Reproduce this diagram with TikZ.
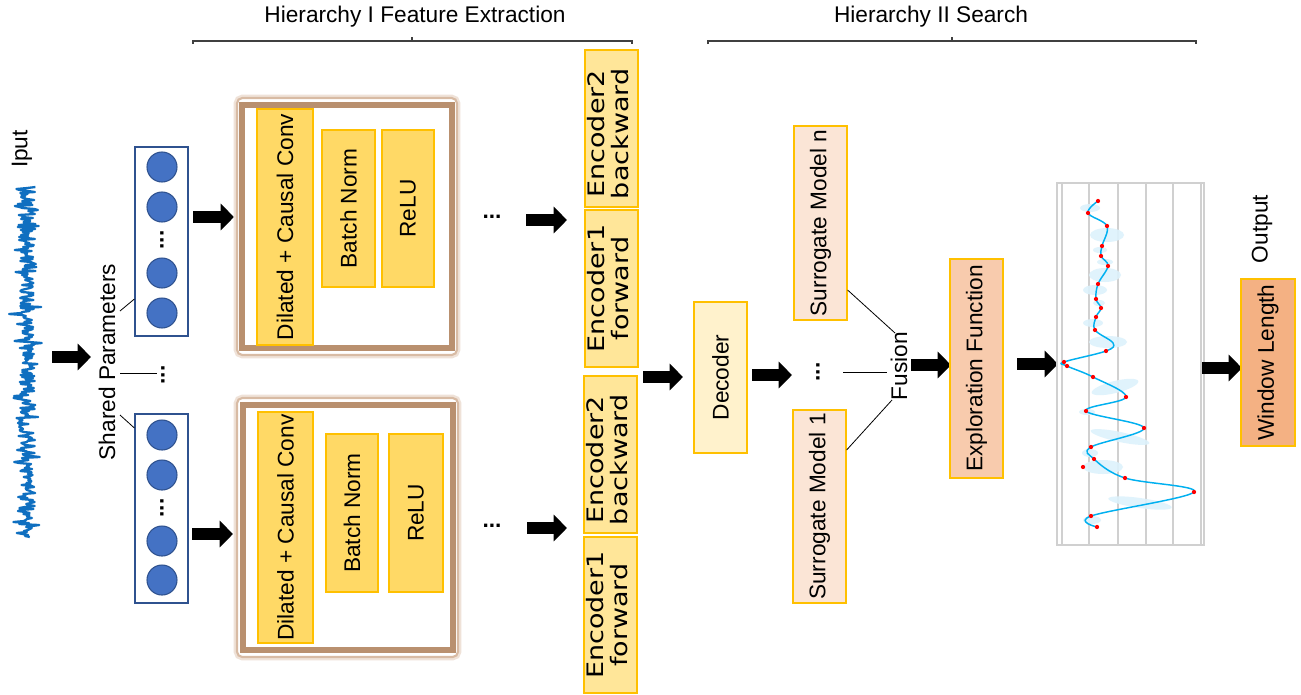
\documentclass[tikz,border=0pt]{standalone}
\usepackage{fontspec}
\usepackage{graphicx}
\setmainfont{Liberation Sans}
\newfontfamily\encfont{DejaVu Sans}
\usetikzlibrary{arrows.meta,fit}

\definecolor{boxedge}{HTML}{FFC000}
\definecolor{gold}{HTML}{FFD966}
\definecolor{encfill}{HTML}{FFE699}
\definecolor{decfill}{HTML}{FFF2CC}
\definecolor{surfill}{HTML}{FBE5D6}
\definecolor{expfill}{HTML}{F8CBAD}
\definecolor{winfill}{HTML}{F4B183}
\definecolor{nblue}{HTML}{4472C4}
\definecolor{nedge}{HTML}{2F528F}
\definecolor{framebrown}{HTML}{B9906F}
\definecolor{glowbrown}{HTML}{D8BBA4}
\definecolor{glowlight}{HTML}{EFE2D8}
\definecolor{sigblue}{HTML}{0F6FC0}
\definecolor{curveblue}{HTML}{00B0F0}
\definecolor{bandblue}{HTML}{DDF2FC}
\definecolor{gridgray}{HTML}{D0D0D0}
\definecolor{bracegray}{HTML}{404040}

% vertical text helpers
\newcommand{\vtxt}[1]{\rotatebox{90}{#1}}
\newcommand{\enctxt}[2]{\rotatebox{90}{\begin{tabular}{@{}c@{}}\scalebox{1.19}[1]{#1}\\\scalebox{1.19}[1]{#2}\end{tabular}}}
\newcommand{\hdots}{\textbf{...}}

\begin{document}
\begin{tikzpicture}[x=0.75pt,y=-0.75pt,
  font=\fontsize{17}{20}\selectfont,
  box/.style={draw=boxedge,line width=0.9pt,inner sep=0pt},
  convbox/.style={box,fill=gold},
  encbox/.style={box,fill=encfill},
  enclabel/.style={font=\encfont\fontsize{17}{17.5}\selectfont,inner sep=0pt},
  decbox/.style={box,fill=decfill},
  surbox/.style={box,fill=surfill},
  expbox/.style={box,fill=expfill},
  winbox/.style={box,fill=winfill},
  lbl/.style={inner sep=0pt},
  colbox/.style={draw=nedge,line width=0.9pt,inner sep=0pt,fill=white},
  neuron/.style={circle,fill=nblue,draw=nedge,line width=0.8pt,minimum size=22.5pt,inner sep=0pt},
  glowframe/.style={draw=glowlight,line width=5pt,rounded corners=4pt,inner sep=0pt},
  outerframe/.style={draw=glowbrown,line width=1.6pt,rounded corners=4pt,inner sep=0pt,fill=white},
  innerframe/.style={draw=framebrown,line width=4pt,inner sep=0pt},
  barrow/.style={line width=9.5pt,-{Triangle[length=10pt,width=19.5pt]}},
  thinline/.style={line width=0.6pt,black},
  bracket/.style={line width=0.9pt,bracegray},
  plotframe/.style={draw=gridgray,line width=1pt,inner sep=0pt},
  dot/.style={circle,fill=red,inner sep=0pt,minimum size=3.2pt}
]
\useasboundingbox (0,0) rectangle (1301,694);
\fill[white] (0,0) rectangle (1301,694);

% ---------- headings with brackets ----------
\node (h1) at (415,17) {Hierarchy I Feature Extraction};
\node (h2) at (931,17) {Hierarchy II Search};
\draw[bracket] (193,44) -- (193,41) -- (632,41) -- (632,44);
\draw[bracket] (412,41) -- (412,37);
\draw[bracket] (708,44) -- (708,41) -- (1196,41) -- (1196,44);
\draw[bracket] (952,41) -- (952,37);

% ---------- input signal ----------
\node[lbl] (iput) at (22,149) {\vtxt{Iput}};
\pgfmathsetseed{42}
\draw[sigblue,line width=1.7pt,line join=round]
  plot[domain=187:537,samples=351,variable=\t]
  ({27+8*rand+16*rand*rand*rand},\t);
\coordinate (a0s) at (52,357);
\coordinate (a0e) at (91,357);
\draw[barrow] (a0s) -- (a0e);

% ---------- shared parameters ----------
\node[lbl] (shared) at (107,362) {\vtxt{Shared Parameters}};

% upper neuron column
\node[colbox,fit={(135,147) (188,336)}] (colT) {};
\node[neuron] (t1) at (162,167) {};
\node[neuron] (t2) at (162,207) {};
\node (tdots) at (162,240) {\vtxt{\hdots}};
\node[neuron] (t3) at (162,273) {};
\node[neuron] (t4) at (162,313) {};

% lower neuron column
\node[colbox,fit={(135,414) (188,603)}] (colB) {};
\node[neuron] (b1) at (162,435) {};
\node[neuron] (b2) at (162,475) {};
\node (bdots) at (162,508) {\vtxt{\hdots}};
\node[neuron] (b3) at (162,541) {};
\node[neuron] (b4) at (162,580) {};

\node (mdots) at (163,375) {\vtxt{\hdots}};
\coordinate (sp1) at (120,311);
\coordinate (sp2) at (120,373);
\coordinate (sp3) at (120,415);
\draw[thinline] (sp1) -- (colT.west |- 0,299);
\draw[thinline] (sp2) -- (157,373) coordinate (sp2e);
\draw[thinline] (sp3) -- (colB.west |- 0,428);

% ---------- convolution blocks ----------
\coordinate (a1s) at (193,217);
\coordinate (a1e) at (234,217);
\draw[barrow] (a1s) -- (a1e);
\node[glowframe,fit={(237,98) (457,355)}] {};
\node[outerframe,fit={(237,98) (457,355)}] (convT) {};
\node[innerframe,fit={(242,105) (452,348)}] (innerT) {};
\node[convbox,fit={(257,109) (313,345)}] (dcT) {};
\node[convbox,fit={(322,130) (375,287)}] (bnT) {};
\node[convbox,fit={(382,130) (434,287)}] (reT) {};
\node[lbl] at (dcT.center) {\vtxt{Dilated + Causal Conv}};
\node[lbl] at (bnT.center) {\vtxt{Batch Norm}};
\node[lbl] at (reT.center) {\vtxt{ReLU}};

\coordinate (a2s) at (192,534);
\coordinate (a2e) at (233,534);
\draw[barrow] (a2s) -- (a2e);
\node[glowframe,fit={(237,398) (458,657)}] {};
\node[outerframe,fit={(237,398) (458,657)}] (convB) {};
\node[innerframe,fit={(243,405) (453,650)}] (innerB) {};
\node[convbox,fit={(258,412) (313,643)}] (dcB) {};
\node[convbox,fit={(326,434) (378,592)}] (bnB) {};
\node[convbox,fit={(389,434) (443,592)}] (reB) {};
\node[lbl] at (dcB.center) {\vtxt{Dilated + Causal Conv}};
\node[lbl] at (bnB.center) {\vtxt{Batch Norm}};
\node[lbl] at (reB.center) {\vtxt{ReLU}};

\node (hdT) at (492,217) {\hdots};
\node (hdB) at (492,526) {\hdots};
\coordinate (a3s) at (526,220);
\coordinate (a3e) at (567,220);
\draw[barrow] (a3s) -- (a3e);
\coordinate (a4s) at (527,528);
\coordinate (a4e) at (567,528);
\draw[barrow] (a4s) -- (a4e);

% ---------- encoders ----------
\node[encbox,fit={(585,50) (638,207)}] (e2T) {};
\node[encbox,fit={(585,210) (638,367)}] (e1T) {};
\node[encbox,fit={(584,376) (637,533)}] (e2B) {};
\node[encbox,fit={(584,537) (637,693)}] (e1B) {};
\node[enclabel] at ([yshift=-4pt]e2T.center) {\enctxt{Encoder2}{backward}};
\node[enclabel] at (e1T.center) {\enctxt{Encoder1}{forward}};
\node[enclabel] at ([yshift=-4pt]e2B.center) {\enctxt{Encoder2}{backward}};
\node[enclabel] at (e1B.center) {\enctxt{Encoder1}{forward}};

\coordinate (a5s) at (643,377);
\coordinate (a5e) at (683,377);
\draw[barrow] (a5s) -- (a5e);

% ---------- decoder and surrogates ----------
\node[decbox,fit={(694,302) (747,453)}] (dec) {};
\node[lbl] at (dec.center) {\vtxt{Decoder}};
\coordinate (a6s) at (752,375);
\coordinate (a6e) at (792,375);
\draw[barrow] (a6s) -- (a6e);

\node[surbox,fit={(794,126) (847,320)}] (surN) {};
\node[surbox,fit={(793,410) (846,603)}] (sur1) {};
\node[lbl] at (surN.center) {\vtxt{Surrogate Model n}};
\node[lbl] at (sur1.center) {\vtxt{Surrogate Model 1}};
\node (sdots) at (818,372) {\vtxt{\hdots}};

\node[lbl] (fusion) at (899,366) {\vtxt{Fusion}};
\draw[thinline] (surN.east |- 0,290) -- (895,333) coordinate (fz1);
\draw[thinline] (843,372) coordinate (fz2) -- (887,372);
\draw[thinline] (sur1.east |- 0,450) -- (892,400) coordinate (fz3);

\coordinate (a7s) at (911,365);
\coordinate (a7e) at (951,365);
\draw[barrow] (a7s) -- (a7e);

\node[expbox,fit={(950,259) (1003,478)}] (expl) {};
\node[lbl] at (expl.center) {\vtxt{Exploration Function}};
\coordinate (a8s) at (1017,364);
\coordinate (a8e) at (1058,364);
\draw[barrow] (a8s) -- (a8e);

% ---------- acquisition plot ----------
\node[plotframe,fit={(1057,183) (1204,545)}] (plt) {};
\foreach \gx in {1062,1089,1118,1146,1173,1201}
  \draw[gridgray,line width=0.8pt] (\gx,183) -- (\gx,545);
\begin{scope}[bandblue,opacity=0.9]
  \fill (1090,208) ellipse [x radius=10, y radius=4];
  \fill (1107,235) ellipse [x radius=17, y radius=7];
  \fill (1100,250) ellipse [x radius=7, y radius=3];
  \fill (1105,262) ellipse [x radius=8, y radius=3];
  \fill (1105,275) ellipse [x radius=16, y radius=7];
  \fill (1095,290) ellipse [x radius=12, y radius=5];
  \fill (1099,303) ellipse [x radius=6, y radius=3];
  \fill (1093,323) ellipse [x radius=10, y radius=4];
  \fill (1108,342) ellipse [x radius=19, y radius=6];
  \fill[rotate around={14:(1115,387)}] (1115,387) ellipse [x radius=24, y radius=6];
  \fill (1087,412) ellipse [x radius=8, y radius=3];
  \fill[rotate around={-12:(1120,437)}] (1120,437) ellipse [x radius=30, y radius=5];
  \fill (1090,453) ellipse [x radius=8, y radius=4];
  \fill (1103,467) ellipse [x radius=20, y radius=7];
  \fill[rotate around={-8:(1140,503)}] (1140,503) ellipse [x radius=32, y radius=5];
  \fill (1092,520) ellipse [x radius=9, y radius=4];
\end{scope}
\draw[curveblue,line width=1.1pt] plot[smooth,tension=0.6] coordinates {
  (1098,201) (1088,213) (1107,226) (1102,246) (1101,256) (1108,266)
  (1098,284) (1096,299) (1101,308) (1096,317) (1095,330) (1113,343)
  (1106,351) (1064,362) (1067,366) (1093,377) (1126,397) (1086,411)
  (1144,428) (1091,447) (1094,459) (1125,478) (1194,492) (1091,516)
  (1097,527)};
\foreach \p in {(1098,201),(1088,213),(1107,226),(1102,246),(1101,256),(1108,266),
  (1098,284),(1096,299),(1101,308),(1096,317),(1095,330),(1106,351),
  (1064,362),(1067,366),(1093,377),(1126,397),(1086,411),(1144,428),
  (1091,447),(1094,459),(1083,467),(1125,478),(1194,492),(1091,516),(1097,527)}
  \node[dot] at \p {};

% ---------- output ----------
\coordinate (a9s) at (1202,368);
\coordinate (a9e) at (1242,368);
\draw[barrow] (a9s) -- (a9e);
\node[lbl] (outlbl) at (1262,229) {\vtxt{Output}};
\node[winbox,fit={(1241,279) (1295,446)}] (win) {};
\node[lbl] at (win.center) {\vtxt{Window Length}};
\end{tikzpicture}
\end{document}
